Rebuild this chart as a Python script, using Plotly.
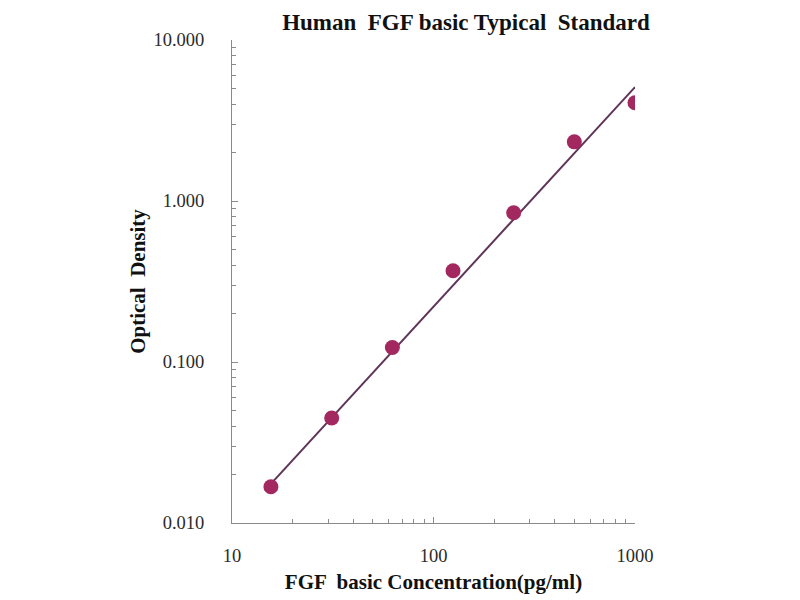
"""
Standard curve for Human FGF basic ELISA, recreated with Plotly.
"""

import plotly.graph_objects as go

# standard points
concentration = [15.6, 31.25, 62.5, 125, 250, 500, 1000]
optical_density = [0.0168, 0.0449, 0.123, 0.369, 0.846, 2.33, 4.08]

# fitted line endpoints
fit_x = [15.6, 1000]
fit_y = [0.0175, 5.1]

x_tickvals = [10, 100, 1000]
x_ticktext = ["10", "100", "1000"]
y_tickvals = [0.01, 0.1, 1, 10]
y_ticktext = ["0.010", "0.100", "1.000", "10.000"]

SERIF = "Liberation Serif, Times New Roman, serif"
AXIS_COLOR = "#8a8a8a"

fig = go.Figure()

# fitted line
fig.add_trace(go.Scatter(
    x=fit_x, y=fit_y, mode="lines",
    line=dict(color="#5e3558", width=2),
    hoverinfo="skip", showlegend=False
))

# standard points
fig.add_trace(go.Scatter(
    x=concentration, y=optical_density, mode="markers",
    marker=dict(color="#a2285f", size=15, line=dict(width=0)),
    showlegend=False
))

axis_common = dict(
    type="log",
    showgrid=False,
    zeroline=False,
    showline=True,
    linecolor=AXIS_COLOR,
    linewidth=1,
    ticks="inside",
    ticklen=6,
    tickcolor=AXIS_COLOR,
    tickfont=dict(family=SERIF, size=18.5, color="#2a2a2a"),
    minor=dict(ticks="inside", ticklen=4, tickcolor=AXIS_COLOR, dtick="D1", showgrid=False),
)

fig.update_xaxes(
    **axis_common,
    range=[1, 3],
    tickvals=x_tickvals,
    ticktext=x_ticktext,
    ticklabelstandoff=16,
    title=dict(text="<b>FGF  basic Concentration(pg/ml)</b>",
               font=dict(family=SERIF, size=21, color="#111111"),
               standoff=9),
)

fig.update_yaxes(
    **axis_common,
    range=[-2, 1],
    tickvals=y_tickvals,
    ticktext=y_ticktext,
    ticklabelstandoff=23,
    title=dict(text="<b>Optical  Density</b>",
               font=dict(family=SERIF, size=21, color="#111111"),
               standoff=2),
)

fig.update_layout(
    width=800,
    height=600,
    paper_bgcolor="white",
    plot_bgcolor="white",
    margin=dict(l=224, r=173, t=32, b=85),
    title=dict(text="<b>Human  FGF basic Typical  Standard</b>",
               font=dict(family=SERIF, size=23, color="#111111"),
               x=0.5725, xanchor="center", y=0.99, yanchor="top"),
)

fig.write_html("out.html")
